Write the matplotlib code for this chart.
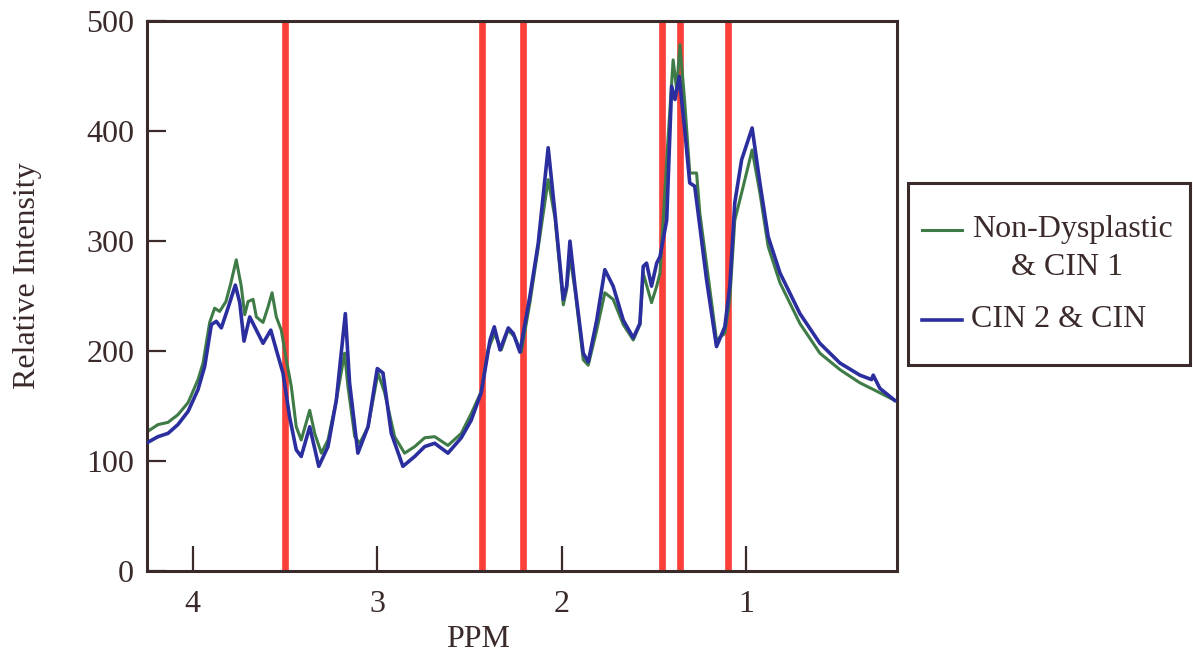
import matplotlib
matplotlib.use("Agg")
import matplotlib.pyplot as plt
from matplotlib.lines import Line2D
from matplotlib.patches import Rectangle

# spectra (ppm, relative intensity)
ppm_green = [4.242, 4.188, 4.134, 4.080, 4.025, 3.971, 3.944, 3.908, 3.881, 3.854,
             3.820, 3.793, 3.764, 3.737, 3.718, 3.700, 3.673, 3.655, 3.619, 3.592,
             3.570, 3.547, 3.520, 3.493, 3.466, 3.439, 3.412, 3.366, 3.339, 3.303,
             3.267, 3.222, 3.177, 3.159, 3.122, 3.095, 3.050, 2.996, 2.960, 2.906,
             2.852, 2.797, 2.743, 2.689, 2.617, 2.545, 2.491, 2.437, 2.400, 2.364,
             2.328, 2.292, 2.256, 2.220, 2.173, 2.128, 2.074, 2.037, 1.992, 1.974,
             1.956, 1.929, 1.884, 1.857, 1.811, 1.767, 1.722, 1.667, 1.613, 1.577,
             1.559, 1.541, 1.514, 1.486, 1.468, 1.424, 1.397, 1.378, 1.360, 1.334,
             1.307, 1.270, 1.252, 1.162, 1.117, 1.090, 1.063, 1.017, 0.969, 0.927,
             0.882, 0.818, 0.710, 0.602, 0.493, 0.385, 0.313, 0.196]
int_green = [127, 133, 135, 142, 153, 174, 189, 226, 239, 236,
             245, 262, 283, 259, 233, 245, 247, 231, 226, 240,
             253, 231, 219, 192, 168, 131, 119, 146, 125, 107,
             119, 155, 198, 168, 122, 116, 131, 180, 162, 122,
             107, 113, 121, 122, 114, 125, 143, 163, 201, 216,
             201, 219, 213, 199, 244, 294, 356, 321, 242, 256,
             286, 256, 192, 187, 219, 253, 247, 224, 210, 224,
             271, 260, 244, 259, 271, 395, 465, 438, 479, 426,
             362, 362, 325, 210, 216, 247, 319, 350, 383, 344,
             295, 262, 225, 198, 183, 171, 165, 155]

ppm_blue = [4.242, 4.188, 4.134, 4.080, 4.025, 3.971, 3.935, 3.899, 3.872, 3.845,
            3.809, 3.769, 3.745, 3.722, 3.691, 3.664, 3.619, 3.577, 3.547, 3.511,
            3.475, 3.439, 3.412, 3.366, 3.317, 3.267, 3.222, 3.173, 3.150, 3.105,
            3.050, 3.000, 2.969, 2.924, 2.861, 2.797, 2.743, 2.689, 2.617, 2.545,
            2.491, 2.437, 2.389, 2.366, 2.335, 2.290, 2.263, 2.227, 2.173, 2.128,
            2.074, 2.037, 1.992, 1.974, 1.956, 1.929, 1.884, 1.857, 1.811, 1.767,
            1.722, 1.667, 1.613, 1.577, 1.559, 1.541, 1.514, 1.486, 1.468, 1.432,
            1.405, 1.387, 1.364, 1.334, 1.307, 1.280, 1.252, 1.216, 1.162, 1.117,
            1.090, 1.063, 1.026, 0.969, 0.927, 0.882, 0.818, 0.710, 0.602, 0.493,
            0.385, 0.322, 0.313, 0.277, 0.196]
int_blue = [117, 122, 125, 133, 145, 165, 186, 224, 227, 221,
            239, 260, 244, 209, 231, 222, 207, 219, 201, 180,
            140, 110, 104, 131, 95, 113, 155, 234, 171, 107,
            131, 184, 180, 125, 95, 104, 113, 116, 107, 121,
            137, 162, 210, 222, 201, 221, 216, 199, 250, 298,
            385, 325, 247, 259, 300, 259, 198, 190, 228, 274,
            259, 228, 212, 225, 277, 280, 259, 280, 286, 319,
            441, 429, 450, 401, 353, 350, 313, 265, 204, 222,
            259, 335, 374, 403, 353, 304, 271, 234, 207, 189,
            178, 174, 178, 166, 155]

red_marks = [3.50, 2.435, 2.208, 1.46, 1.36, 1.10]
x_ticks = [4, 3, 2, 1]
y_ticks = [0, 100, 200, 300, 400, 500]
series_labels = ["Non-Dysplastic", "& CIN 1", "CIN 2 & CIN"]

ink = "#3b2a2a"
green = "#3f7b47"
blue = "#2b2e9e"
red = "#fa4038"
fs = 23

plt.rcParams["font.family"] = ["Liberation Serif", "DejaVu Serif"]

fig = plt.figure(figsize=(11.93, 6.58), dpi=100)
ax = fig.add_axes([0.1230, 0.1327, 0.6289, 0.8347])

for x in red_marks:
    ax.axvline(x, color=red, lw=4.8, zorder=1)

ax.plot(ppm_green, int_green, color=green, lw=2.2, zorder=2)
ax.plot(ppm_blue, int_blue, color=blue, lw=2.6, zorder=3)

ax.set_xlim(4.249, 0.184)
ax.set_ylim(0, 500)
ax.set_xticks(x_ticks)
ax.set_yticks(y_ticks)

for s in ax.spines.values():
    s.set_color(ink)
    s.set_linewidth(2.2)
ax.tick_params(axis="x", direction="in", length=18, width=1.6, color=ink,
               labelsize=fs, labelcolor=ink, pad=14)
ax.tick_params(axis="y", direction="in", length=14, width=1.6, color=ink,
               labelsize=fs, labelcolor=ink, pad=9)

ax.text(0.4416, -0.126, "PPM", transform=ax.transAxes, ha="center", va="center",
        fontsize=fs, color=ink)
ax.text(-0.1595, 0.538, "Relative Intensity", transform=ax.transAxes, rotation=90,
        ha="center", va="center", fontsize=fs, color=ink)

# legend box outside the axes, drawn by hand to keep the centred second line
fig.add_artist(Rectangle((0.7611, 0.4453), 0.2364, 0.2761, transform=fig.transFigure,
                         fill=False, edgecolor=ink, lw=2.2))
fig.add_artist(Line2D([0.7729, 0.8064], [0.6505, 0.6505], transform=fig.transFigure,
                      color=green, lw=2.2))
fig.add_artist(Line2D([0.7729, 0.8064], [0.5137, 0.5137], transform=fig.transFigure,
                      color=blue, lw=2.6))
fig.text(0.8148, 0.6505, series_labels[0], ha="left", va="center", fontsize=fs, color=ink)
fig.text(0.8948, 0.5942, series_labels[1], ha="center", va="center", fontsize=fs, color=ink)
fig.text(0.8139, 0.5137, series_labels[2], ha="left", va="center", fontsize=fs, color=ink)

fig.savefig("out.png", dpi=100, facecolor="white")
